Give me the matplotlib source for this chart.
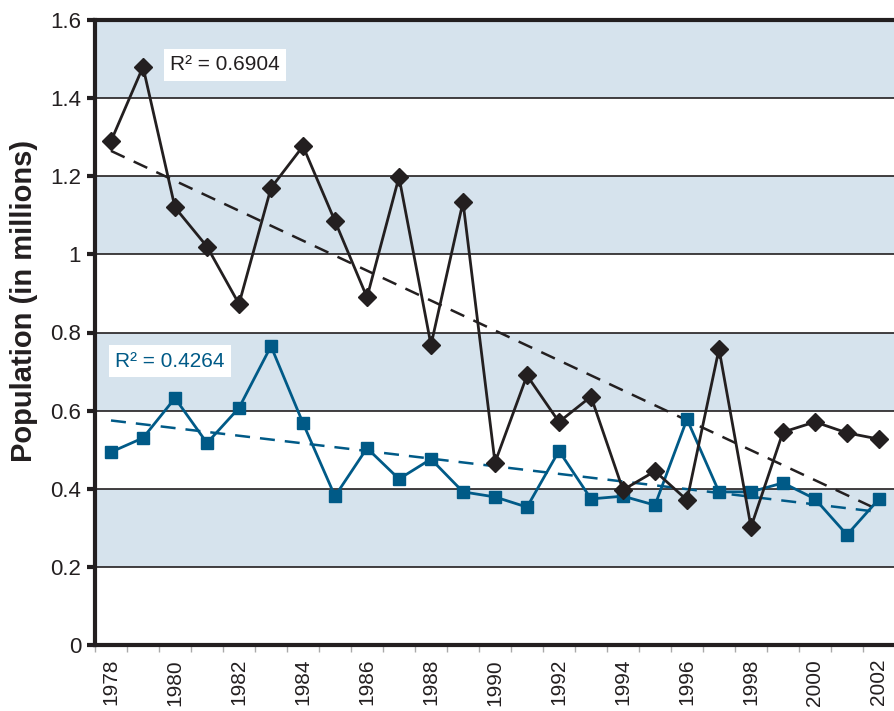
import numpy as np
import matplotlib
matplotlib.use("Agg")
import matplotlib.pyplot as plt
from matplotlib.ticker import FixedLocator

years = list(range(1978, 2003))
series_black = [1.29, 1.48, 1.12, 1.02, 0.873, 1.17, 1.277, 1.085, 0.89, 1.198,
                0.768, 1.134, 0.467, 0.69, 0.571, 0.636, 0.397, 0.445, 0.371, 0.758,
                0.302, 0.545, 0.571, 0.543, 0.527]
series_blue = [0.494, 0.530, 0.632, 0.517, 0.607, 0.765, 0.568, 0.381, 0.504, 0.425,
               0.476, 0.392, 0.379, 0.353, 0.497, 0.374, 0.381, 0.358, 0.578, 0.392,
               0.392, 0.415, 0.374, 0.282, 0.374]
r2_black = "0.6904"
r2_blue = "0.4264"
y_ticks = [0, 0.2, 0.4, 0.6, 0.8, 1, 1.2, 1.4, 1.6]
y_tick_labels = ["0", "0.2", "0.4", "0.6", "0.8", "1", "1.2", "1.4", "1.6"]

BLACK = "#231f20"
BLUE = "#005a87"
BAND = "#d6e3ed"
font = ["Liberation Sans", "DejaVu Sans"]

fig = plt.figure(figsize=(8.95, 7.11), dpi=100)
ax = fig.add_axes([95/895, 1-645/711, 1-95/895, (645-20)/711])

x = np.arange(len(years))
ax.set_xlim(-0.5, len(years) - 0.5)
ax.set_ylim(0, 1.6)

# alternating bands
for i, lo in enumerate(y_ticks[:-1]):
    if i % 2 == 1:
        ax.axhspan(lo, y_ticks[i+1], color=BAND, zorder=0, lw=0)
for v in y_ticks[1:-1]:
    ax.axhline(v, color=BLACK, lw=1.2, zorder=1)

# trend lines (linear fits)
for ys, col in [(series_black, BLACK), (series_blue, BLUE)]:
    k, b = np.polyfit(x, ys, 1)
    ax.plot(x, k*x + b, color=col, lw=1.8, ls=(0, (6, 4)), zorder=2)

ax.plot(x, series_blue, color=BLUE, lw=2, marker="s", ms=9, zorder=3)
ax.plot(x, series_black, color=BLACK, lw=2, marker="D", ms=9, zorder=4)

ax.text(1.85, 1.485, "R² = " + r2_black, fontsize=15, color=BLACK, family=font,
        va="center", ha="left", zorder=5,
        bbox=dict(boxstyle="square,pad=0.3", fc="white", ec="none"))
ax.text(0.13, 0.727, "R² = " + r2_blue, fontsize=15, color=BLUE, family=font,
        va="center", ha="left", zorder=5,
        bbox=dict(boxstyle="square,pad=0.3", fc="white", ec="none"))

# axes styling
ax.spines["right"].set_visible(False)
for s in ["left", "bottom", "top"]:
    ax.spines[s].set_linewidth(3)
    ax.spines[s].set_color(BLACK)

ax.set_yticks(y_ticks)
ax.set_yticklabels(y_tick_labels, family=font, fontsize=16, color=BLACK)
ax.tick_params(axis="y", length=6, width=3, color=BLACK, pad=4)

ax.set_xticks(x[::2])
ax.set_xticklabels([str(y) for y in years[::2]], rotation=90, family=font,
                   fontsize=15, color=BLACK)
ax.tick_params(axis="x", length=0, pad=10)
ax.xaxis.set_minor_locator(FixedLocator(np.arange(-0.5, len(years), 1.0)))
ax.tick_params(axis="x", which="minor", length=5, width=1, color="#aaaaaa")

fig.text(24/895, 1-301/711, "Population (in millions)", fontsize=21,
         fontweight="bold", family=font, color=BLACK, rotation=90,
         ha="center", va="center")

fig.savefig("out.png", dpi=100)
